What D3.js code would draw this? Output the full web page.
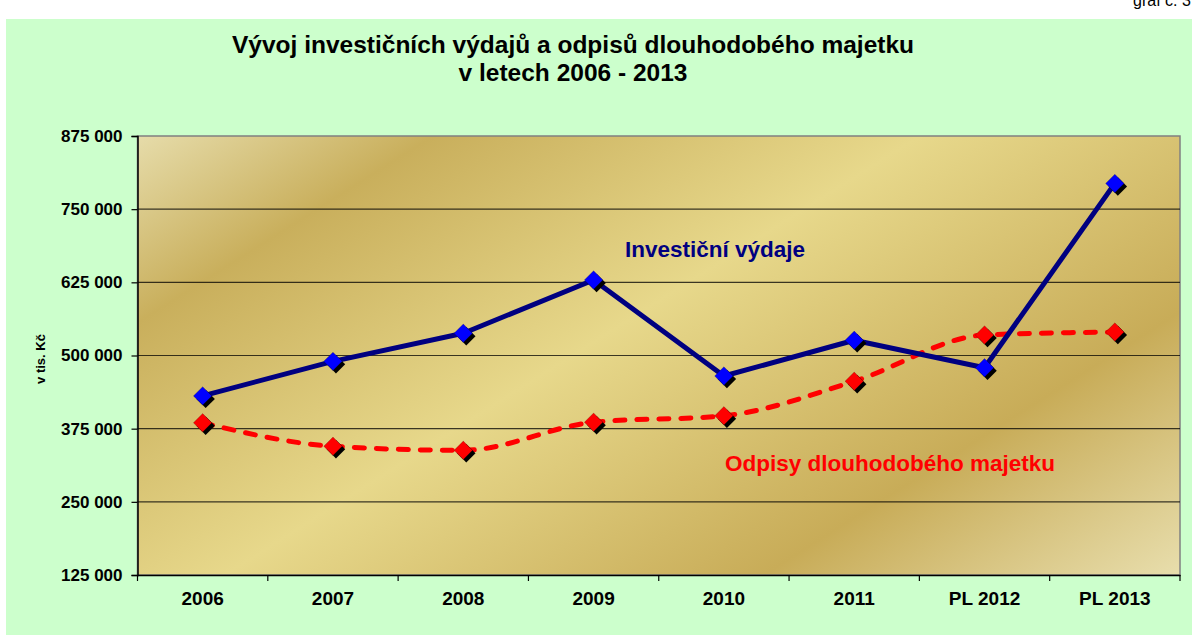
<!DOCTYPE html>
<html>
<head>
<meta charset="utf-8">
<script src="https://cdn.jsdelivr.net/npm/d3@7"></script>
<style>
  html, body { margin: 0; padding: 0; background: #ffffff; }
  svg { display: block; font-family: Arial, "Liberation Sans", sans-serif; }
</style>
</head>
<body>
<div id="chart"></div>
<script>
// chart constants
const WIDTH = 1192;
const HEIGHT = 636;
const PLOT = { left: 137.5, right: 1180, top: 136, bottom: 575 };
const FONT = "Arial, 'Liberation Sans', sans-serif";

// data
const years = ["2006", "2007", "2008", "2009", "2010", "2011", "PL 2012", "PL 2013"];
const investice = [431000, 490000, 538000, 629000, 465000, 526000, 479000, 794000];
const odpisy = [385000, 345000, 338000, 386000, 397000, 456000, 535000, 540000];
const yTicks = [125000, 250000, 375000, 500000, 625000, 750000, 875000];

const titleLines = [
  "Vývoj investičních výdajů a odpisů dlouhodobého majetku",
  "v letech 2006 - 2013",
];

const svg = d3.select("#chart")
  .append("svg")
  .attr("width", WIDTH)
  .attr("height", HEIGHT);

// gold gradient for plot area
const defs = svg.append("defs");
const grad = defs.append("linearGradient")
  .attr("id", "gold")
  .attr("gradientUnits", "userSpaceOnUse")
  .attr("x1", PLOT.left)
  .attr("y1", PLOT.top)
  .attr("x2", PLOT.left + 496)
  .attr("y2", PLOT.top + 785);
[
  [0, "#e6dcaa"],
  [0.17, "#c9af5c"],
  [0.45, "#e7d88b"],
  [0.76, "#c8ac58"],
  [1, "#e8dead"],
].forEach(([o, c]) => grad.append("stop").attr("offset", o).attr("stop-color", c));

// chart background
svg.append("rect")
  .attr("x", 6).attr("y", 19)
  .attr("width", WIDTH - 6).attr("height", 616)
  .attr("fill", "#ccffcc");

svg.append("text")
  .attr("x", 1133).attr("y", 6)
  .attr("font-size", "16px")
  .attr("fill", "#000")
  .text("graf č. 3");

// title
svg.append("g")
  .selectAll("text")
  .data(titleLines)
  .join("text")
  .attr("x", 573)
  .attr("y", (_, i) => 53 + i * 28)
  .attr("text-anchor", "middle")
  .attr("font-size", "24.5px")
  .attr("font-weight", "bold")
  .attr("fill", "#000")
  .text((d) => d);

// scales
const x = d3.scaleBand().domain(years).range([PLOT.left, PLOT.right]);
const y = d3.scaleLinear().domain([125000, 875000]).range([PLOT.bottom, PLOT.top]);

svg.append("rect")
  .attr("x", PLOT.left).attr("y", PLOT.top)
  .attr("width", PLOT.right - PLOT.left)
  .attr("height", PLOT.bottom - PLOT.top)
  .attr("fill", "url(#gold)")
  .attr("stroke", "#808080")
  .attr("stroke-width", 1.5);

// gridlines
svg.append("g")
  .selectAll("line")
  .data(yTicks.slice(1, -1))
  .join("line")
  .attr("x1", PLOT.left).attr("x2", PLOT.right)
  .attr("y1", (d) => y(d)).attr("y2", (d) => y(d))
  .attr("stroke", "#000")
  .attr("stroke-opacity", 0.75)
  .attr("stroke-width", 1.2);

const fmt = (v) => d3.format(",")(v).replace(/,/g, " ");

// Y axis
svg.append("g")
  .attr("transform", `translate(${PLOT.left},0)`)
  .call(d3.axisLeft(y).tickValues(yTicks).tickSize(6).tickPadding(9).tickFormat(fmt))
  .call((g) => g.select(".domain").attr("stroke", "#000").attr("stroke-width", 1.5))
  .call((g) => g.selectAll(".tick line").attr("stroke", "#000").attr("stroke-width", 1.2))
  .call((g) => g.selectAll(".tick text")
    .attr("font-size", "17px")
    .attr("font-weight", "bold")
    .attr("font-family", FONT)
    .attr("fill", "#000"));

// X axis
svg.append("g")
  .attr("transform", `translate(0,${PLOT.bottom})`)
  .call(d3.axisBottom(x).tickSize(0).tickPadding(16.5))
  .call((g) => g.select(".domain").attr("stroke", "#000").attr("stroke-width", 1.5))
  .call((g) => g.selectAll(".tick text")
    .attr("font-size", "19px")
    .attr("font-weight", "bold")
    .attr("font-family", FONT)
    .attr("fill", "#000"));

// category separators on the x axis
svg.append("g")
  .selectAll("line")
  .data(years.concat(["end"]))
  .join("line")
  .attr("x1", (d, i) => PLOT.left + i * x.step())
  .attr("x2", (d, i) => PLOT.left + i * x.step())
  .attr("y1", PLOT.bottom).attr("y2", PLOT.bottom + 6)
  .attr("stroke", "#000")
  .attr("stroke-width", 1.2);

// axis title
svg.append("text")
  .attr("transform", "translate(45,359) rotate(-90)")
  .attr("text-anchor", "middle")
  .attr("font-size", "13px")
  .attr("font-weight", "bold")
  .attr("fill", "#000")
  .text("v tis. Kč");

const cx = (i) => x(years[i]) + x.bandwidth() / 2;

// lines
const straight = d3.line().x((d, i) => cx(i)).y((d) => y(d));
const smooth = d3.line().x((d, i) => cx(i)).y((d) => y(d)).curve(d3.curveMonotoneX);

svg.append("path")
  .attr("d", smooth(odpisy))
  .attr("fill", "none")
  .attr("stroke", "#ff0000")
  .attr("stroke-width", 5)
  .attr("stroke-dasharray", "10,12")
  .attr("stroke-linecap", "round");

svg.append("path")
  .attr("d", straight(investice))
  .attr("fill", "none")
  .attr("stroke", "#000080")
  .attr("stroke-width", 5)
  .attr("stroke-linejoin", "round");

// markers with shadow
const diamond = d3.symbol(d3.symbolSquare, 170)();
function markers(values, color) {
  const g = svg.append("g");
  g.selectAll(".shadow")
    .data(values)
    .join("path")
    .attr("class", "shadow")
    .attr("d", diamond)
    .attr("transform", (d, i) => `translate(${cx(i) + 3},${y(d) + 3}) rotate(45)`)
    .attr("fill", "#000");
  g.selectAll(".mark")
    .data(values)
    .join("path")
    .attr("class", "mark")
    .attr("d", diamond)
    .attr("transform", (d, i) => `translate(${cx(i)},${y(d)}) rotate(45)`)
    .attr("fill", color)
    .attr("stroke", "#000")
    .attr("stroke-opacity", 0.3)
    .attr("stroke-width", 0.6);
}
markers(odpisy, "#ff0000");
markers(investice, "#0000ff");

// series labels
svg.append("text")
  .attr("x", 715).attr("y", 257)
  .attr("text-anchor", "middle")
  .attr("font-size", "22.5px")
  .attr("font-weight", "bold")
  .attr("fill", "#000080")
  .text("Investiční výdaje");

svg.append("text")
  .attr("x", 890).attr("y", 471)
  .attr("text-anchor", "middle")
  .attr("font-size", "22.5px")
  .attr("font-weight", "bold")
  .attr("fill", "#ff0000")
  .text("Odpisy dlouhodobého majetku");
</script>
</body>
</html>
